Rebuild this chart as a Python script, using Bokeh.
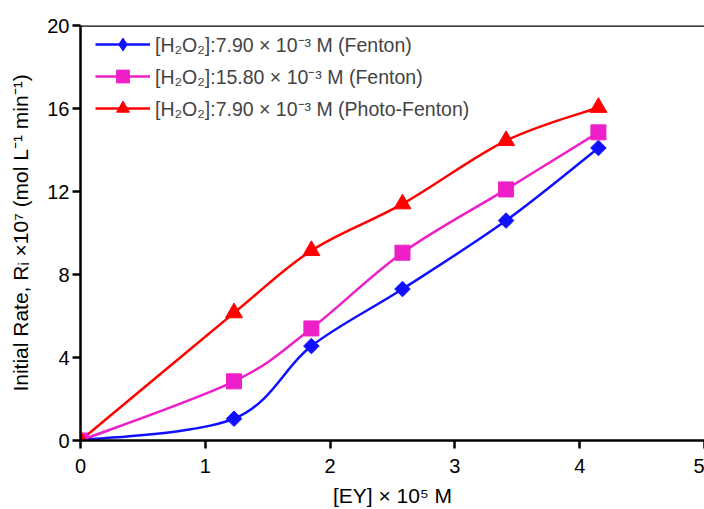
import math
from bokeh.plotting import figure
from bokeh.models import Range1d, Legend, LegendItem, Span, ColumnDataSource
from bokeh.embed import file_html
from bokeh.resources import INLINE

# Data
ey = [0.0, 1.23, 1.85, 2.58, 3.41, 4.15]
fenton_790 = [0.0, 1.05, 4.55, 7.3, 10.6, 14.1]
fenton_1580 = [0.0, 2.85, 5.4, 9.05, 12.1, 14.85]
photo_790 = [0.0, 6.15, 9.15, 11.4, 14.45, 16.05]

labels = [
    "[H\u2082O\u2082]:7.90 \u00d7 10\u207b\u00b3 M (Fenton)",
    "[H\u2082O\u2082]:15.80 \u00d7 10\u207b\u00b3 M (Fenton)",
    "[H\u2082O\u2082]:7.90 \u00d7 10\u207b\u00b3 M (Photo-Fenton)",
]
colors = ["#1010ff", "#ee1fc8", "#ff0000"]
markers = ["square", "square", "triangle"]
legend_markers = ["diamond", "square", "triangle"]
angles = [math.pi / 4, 0.0, 0.0]
sizes = [11, 15, 17]

x_ticks = [0, 1, 2, 3, 4, 5]
y_ticks = [0, 4, 8, 12, 16, 20]

FONT = "Liberation Sans"

p = figure(width=704, height=509, output_backend="svg", toolbar_location=None,
           x_range=Range1d(0, 5), y_range=Range1d(0, 20),
           min_border_left=80, min_border_right=0, min_border_top=25,
           min_border_bottom=69)
p.grid.visible = False
p.outline_line_color = None
p.background_fill_color = "white"

for ax in (p.xaxis[0], p.yaxis[0]):
    ax.axis_line_width = 2.5
    ax.axis_line_color = "black"
    ax.major_tick_line_width = 2.5
    ax.major_tick_out = 8
    ax.major_tick_in = 0
    ax.minor_tick_line_color = None
    ax.major_label_text_font = FONT
    ax.major_label_text_font_size = "20px"
    ax.major_label_text_color = "black"
    ax.axis_label_text_font = FONT
    ax.axis_label_text_font_size = "21px"
    ax.axis_label_text_font_style = "normal"
    ax.axis_label_text_color = "black"

p.xaxis.ticker = x_ticks
p.yaxis.ticker = y_ticks
p.xaxis.major_label_standoff = 10
p.yaxis.major_label_standoff = 3
p.xaxis.axis_label = "[EY] \u00d7 10\u2075 M"
p.yaxis.axis_label = "Initial Rate, R\u1d62 \u00d710\u2077 (mol L\u207b\u00b9 min\u207b\u00b9)"
p.xaxis.axis_label_standoff = 8
p.yaxis.axis_label_standoff = 12

p.add_layout(Span(location=20, dimension="width", line_color="black", line_width=2.5))


def catmull_bezier(xs, ys):
    n = len(xs)
    x0, y0, x1, y1, cx0, cy0, cx1, cy1 = ([] for _ in range(8))
    for i in range(n - 1):
        im = max(i - 1, 0)
        ip2 = min(i + 2, n - 1)
        x0.append(xs[i]); y0.append(ys[i])
        x1.append(xs[i + 1]); y1.append(ys[i + 1])
        cx0.append(xs[i] + (xs[i + 1] - xs[im]) / 6.0)
        cy0.append(ys[i] + (ys[i + 1] - ys[im]) / 6.0)
        cx1.append(xs[i + 1] - (xs[ip2] - xs[i]) / 6.0)
        cy1.append(ys[i + 1] - (ys[ip2] - ys[i]) / 6.0)
    return dict(x0=x0, y0=y0, x1=x1, y1=y1, cx0=cx0, cy0=cy0, cx1=cx1, cy1=cy1)


items = []
series = [fenton_790, fenton_1580, photo_790]
for idx in [2, 1, 0]:
    ys = series[idx]
    src = ColumnDataSource(catmull_bezier(ey, ys))
    p.bezier(x0="x0", y0="y0", x1="x1", y1="y1", cx0="cx0", cy0="cy0",
             cx1="cx1", cy1="cy1", source=src, line_color=colors[idx], line_width=2.5)
for idx in [0, 1, 2]:
    ys = series[idx]
    p.scatter(ey, ys, marker=markers[idx], size=sizes[idx], angle=angles[idx],
              fill_color=colors[idx], line_color=colors[idx])
    ln = p.line([float("nan")], [float("nan")], line_color=colors[idx], line_width=2.5)
    lm = p.scatter([float("nan")], [float("nan")], marker=legend_markers[idx],
                   fill_color=colors[idx], line_color=colors[idx])
    items.append(LegendItem(label=labels[idx], renderers=[ln, lm]))

legend = Legend(items=items, location=(15, 316),
                border_line_color=None, background_fill_alpha=0,
                label_text_font=FONT, label_text_font_size="19.5px",
                glyph_width=55, glyph_height=32, label_height=24,
                spacing=0, padding=0, margin=0, label_standoff=5)
p.add_layout(legend)

open("out.html", "w").write(file_html(p, INLINE))
